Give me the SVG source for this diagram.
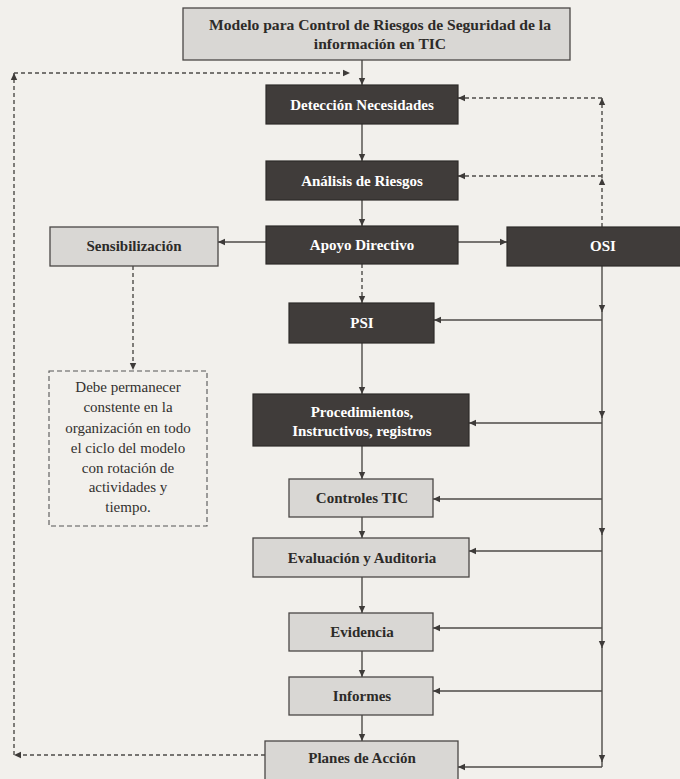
<svg xmlns="http://www.w3.org/2000/svg" width="680" height="779" viewBox="0 0 680 779">
  <style>
    .dark { fill: #403c3a; stroke: #2e2b29; stroke-width: 1.2; }
    .light { fill: #d9d7d4; stroke: #4a4745; stroke-width: 1.3; }
    .note { fill: none; stroke: #555; stroke-width: 1.1; stroke-dasharray: 5 3; }
    .lbl { font-family: "Liberation Serif", "Times New Roman", serif; font-size: 15px; font-weight: bold; text-anchor: middle; }
    .ttl { font-size: 15.6px; }
    .w { fill: #ffffff; }
    .k { fill: #2d2b29; }
    .txt { font-family: "Liberation Serif", "Times New Roman", serif; font-size: 15px; text-anchor: middle; fill: #33312f; }
    .ln { fill: none; stroke: #4e4b48; stroke-width: 1.4; }
    .dash { fill: none; stroke: #4e4b48; stroke-width: 1.4; stroke-dasharray: 4 3; }
  </style>
  <defs>
    <marker id="ah" markerUnits="userSpaceOnUse" markerWidth="8" markerHeight="8" refX="7" refY="4" orient="auto">
      <path d="M0,0.8 L7,4 L0,7.2 Z" fill="#3e3b39"/>
    </marker>
  </defs>

  <rect width="680" height="779" fill="#f2f0ec"/>

  <!-- connectors -->
  <g id="connectors">
    <!-- main vertical flow -->
    <line class="ln" x1="362" y1="60" x2="362" y2="85" marker-end="url(#ah)"/>
    <line class="ln" x1="362" y1="124" x2="362" y2="161" marker-end="url(#ah)"/>
    <line class="ln" x1="362" y1="200" x2="362" y2="226" marker-end="url(#ah)"/>
    <line class="dash" x1="362" y1="264" x2="362" y2="303" marker-end="url(#ah)"/>
    <line class="ln" x1="362" y1="343" x2="362" y2="394" marker-end="url(#ah)"/>
    <line class="ln" x1="362" y1="446" x2="362" y2="479" marker-end="url(#ah)"/>
    <line class="ln" x1="362" y1="517" x2="362" y2="538" marker-end="url(#ah)"/>
    <line class="ln" x1="362" y1="577" x2="362" y2="613" marker-end="url(#ah)"/>
    <line class="ln" x1="362" y1="651" x2="362" y2="677" marker-end="url(#ah)"/>
    <line class="ln" x1="362" y1="715" x2="362" y2="741" marker-end="url(#ah)"/>

    <!-- Apoyo Directivo to sides -->
    <line class="ln" x1="266" y1="242" x2="218" y2="242" marker-end="url(#ah)"/>
    <line class="ln" x1="458" y1="242" x2="507" y2="242" marker-end="url(#ah)"/>

    <!-- Sensibilizacion to note -->
    <line class="dash" x1="133" y1="266" x2="133" y2="370" marker-end="url(#ah)"/>

    <!-- feedback loop on the left -->
    <line class="dash" x1="265" y1="755" x2="14" y2="755" marker-end="url(#ah)"/>
    <line class="dash" x1="14" y1="755" x2="14" y2="73" marker-end="url(#ah)"/>
    <line class="dash" x1="14" y1="73" x2="350" y2="73" marker-end="url(#ah)"/>

    <!-- OSI feedback upward -->
    <line class="dash" x1="602" y1="227" x2="602" y2="178" marker-end="url(#ah)"/>
    <line class="dash" x1="602" y1="178" x2="602" y2="98" marker-end="url(#ah)"/>
    <line class="dash" x1="602" y1="98" x2="458" y2="98" marker-end="url(#ah)"/>
    <line class="dash" x1="602" y1="176" x2="458" y2="176" marker-end="url(#ah)"/>

    <!-- OSI supervision line downward -->
    <line class="ln" x1="602" y1="266" x2="602" y2="312" marker-end="url(#ah)"/>
    <line class="ln" x1="602" y1="310" x2="602" y2="418" marker-end="url(#ah)"/>
    <line class="ln" x1="602" y1="416" x2="602" y2="535" marker-end="url(#ah)"/>
    <line class="ln" x1="602" y1="533" x2="602" y2="648" marker-end="url(#ah)"/>
    <line class="ln" x1="602" y1="646" x2="602" y2="762" marker-end="url(#ah)"/>
    <line class="ln" x1="602" y1="760" x2="602" y2="767"/>

    <line class="ln" x1="602" y1="320" x2="434" y2="320" marker-end="url(#ah)"/>
    <line class="ln" x1="602" y1="423" x2="469" y2="423" marker-end="url(#ah)"/>
    <line class="ln" x1="602" y1="499" x2="433" y2="499" marker-end="url(#ah)"/>
    <line class="ln" x1="602" y1="551" x2="469" y2="551" marker-end="url(#ah)"/>
    <line class="ln" x1="602" y1="628" x2="433" y2="628" marker-end="url(#ah)"/>
    <line class="ln" x1="602" y1="691" x2="433" y2="691" marker-end="url(#ah)"/>
    <line class="ln" x1="602" y1="767" x2="458" y2="767" marker-end="url(#ah)"/>
  </g>

  <g id="titulo">
    <rect class="light" x="183" y="8" width="387" height="52"/>
    <text class="lbl ttl k" x="380" y="30">Modelo para Control de Riesgos de Seguridad de la</text>
    <text class="lbl ttl k" x="380" y="49">información en TIC</text>
  </g>

  <g id="deteccion">
    <rect class="dark" x="266" y="85" width="192" height="39"/>
    <text class="lbl w" x="362" y="110">Detección Necesidades</text>
  </g>

  <g id="analisis">
    <rect class="dark" x="266" y="161" width="192" height="39"/>
    <text class="lbl w" x="362" y="186">Análisis de Riesgos</text>
  </g>

  <g id="apoyo">
    <rect class="dark" x="266" y="226" width="192" height="38"/>
    <text class="lbl w" x="362" y="250">Apoyo Directivo</text>
  </g>

  <g id="sensibilizacion">
    <rect class="light" x="50" y="227" width="168" height="39"/>
    <text class="lbl k" x="134" y="251">Sensibilización</text>
  </g>

  <g id="osi">
    <rect class="dark" x="507" y="227" width="176" height="39"/>
    <text class="lbl w" x="603" y="251">OSI</text>
  </g>

  <g id="nota">
    <rect class="note" x="49" y="371" width="158" height="155"/>
    <text class="txt" x="128" y="392">Debe permanecer</text>
    <text class="txt" x="128" y="412">constente en la</text>
    <text class="txt" x="128" y="433">organización en todo</text>
    <text class="txt" x="128" y="453">el ciclo del modelo</text>
    <text class="txt" x="128" y="473">con rotación de</text>
    <text class="txt" x="128" y="492">actividades y</text>
    <text class="txt" x="128" y="512">tiempo.</text>
  </g>

  <g id="psi">
    <rect class="dark" x="289" y="303" width="145" height="40"/>
    <text class="lbl w" x="362" y="328">PSI</text>
  </g>

  <g id="procedimientos">
    <rect class="dark" x="253" y="394" width="216" height="52"/>
    <text class="lbl w" x="362" y="417">Procedimientos,</text>
    <text class="lbl w" x="362" y="436">Instructivos, registros</text>
  </g>

  <g id="controles">
    <rect class="light" x="289" y="479" width="144" height="38"/>
    <text class="lbl k" x="362" y="503">Controles TIC</text>
  </g>

  <g id="evaluacion">
    <rect class="light" x="253" y="538" width="216" height="39"/>
    <text class="lbl k" x="362" y="563">Evaluación y Auditoria</text>
  </g>

  <g id="evidencia">
    <rect class="light" x="289" y="613" width="144" height="38"/>
    <text class="lbl k" x="362" y="637">Evidencia</text>
  </g>

  <g id="informes">
    <rect class="light" x="289" y="677" width="144" height="38"/>
    <text class="lbl k" x="362" y="701">Informes</text>
  </g>

  <g id="planes">
    <rect class="light" x="265" y="741" width="193" height="40"/>
    <text class="lbl k" x="362" y="763">Planes de Acción</text>
  </g>
</svg>
